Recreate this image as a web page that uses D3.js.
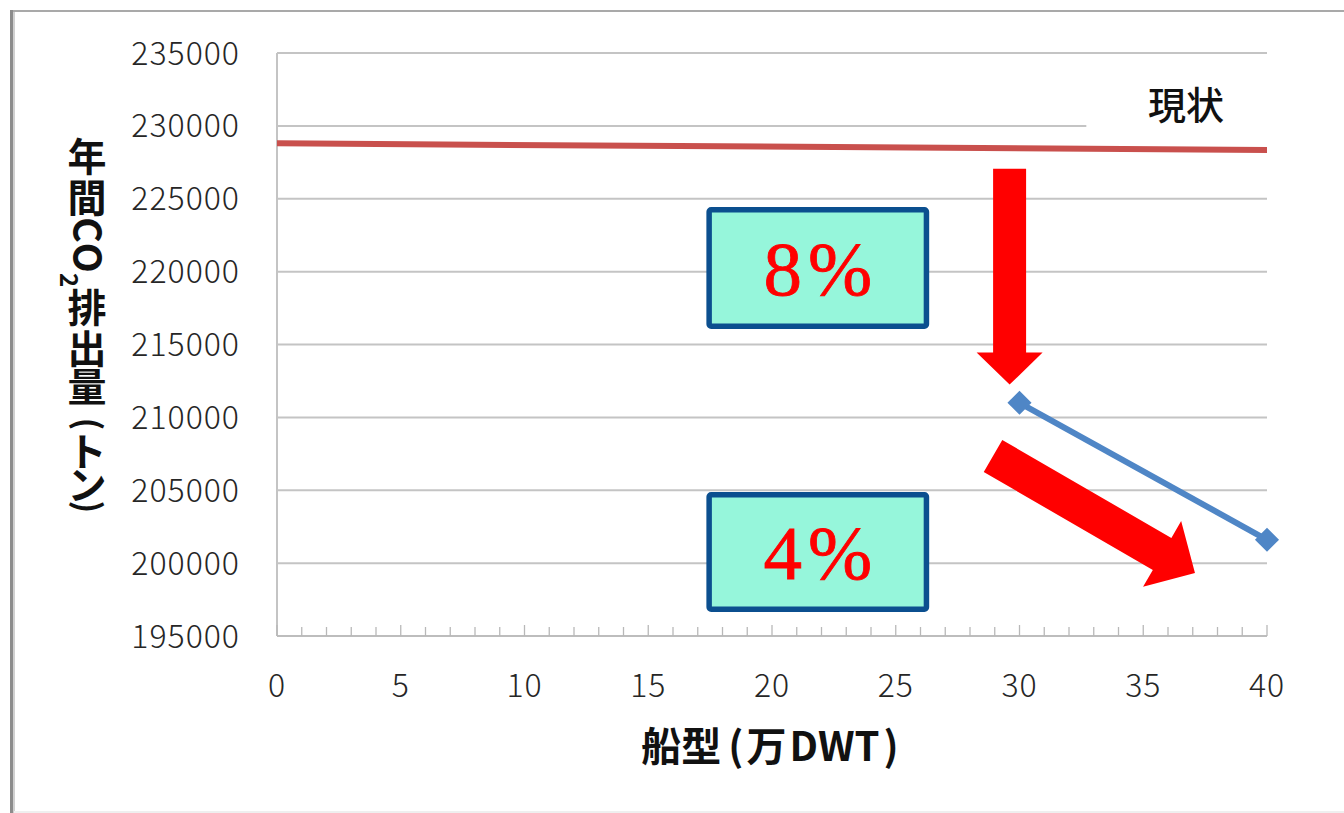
<!DOCTYPE html>
<html>
<head>
<meta charset="utf-8">
<script src="https://cdn.jsdelivr.net/npm/d3@7"></script>
<style>
  html, body { margin: 0; padding: 0; background: #fff; }
  svg { display: block; }
</style>
</head>
<body>
<svg id="chart" width="1344" height="813"></svg>
<script>
// Ship size (10,000 DWT) and annual CO2 emissions (tonnes)
const currentX = [0, 40];
const currentCO2 = [228800, 228350];
const newX = [30, 40];
const newCO2 = [211000, 201600];

const yTicks = [195000, 200000, 205000, 210000, 215000, 220000, 225000, 230000, 235000];
const xTicks = [0, 5, 10, 15, 20, 25, 30, 35, 40];

const currentLabel = "現状";
const reductionLabels = ["8%", "4%"];
const xTitleParts = ["船型", "(", "万", "DWT", ")"];
// vertical y-axis title, one entry per glyph run: upright or turned sideways
const yTitleParts = [
  { t: "年", side: false }, { t: "間", side: false },
  { t: "CO", side: true }, { t: "2", side: true, sub: true },
  { t: "排", side: false }, { t: "出", side: false }, { t: "量", side: false },
  { t: "(", side: true, paren: true }, { t: "ト", side: false }, { t: "ン", side: false },
  { t: ")", side: true, paren: true }
];

const svg = d3.select("#chart");
const W = 1344, H = 813;

const x = d3.scaleLinear().domain([0, 40]).range([277, 1267]);
const y = d3.scaleLinear().domain([195000, 235000]).range([636, 53]);

// outer frame
svg.append("line").attr("x1", 10).attr("x2", W).attr("y1", 11).attr("y2", 11)
  .attr("stroke", "#a9a9a9").attr("stroke-width", 2);
svg.append("line").attr("x1", 11.5).attr("x2", 11.5).attr("y1", 10).attr("y2", H)
  .attr("stroke", "#8c8c8c").attr("stroke-width", 3);
svg.append("line").attr("x1", 14).attr("x2", 14).attr("y1", 12).attr("y2", H)
  .attr("stroke", "#d0d0d0").attr("stroke-width", 2);
svg.append("line").attr("x1", 14).attr("x2", W).attr("y1", 812).attr("y2", 812)
  .attr("stroke", "#efefef").attr("stroke-width", 2);

// horizontal gridlines
svg.append("g").selectAll("line").data(yTicks.filter(d => d > 195000)).join("line")
  .attr("x1", x(0)).attr("x2", d => d === 230000 ? x(32.7) : x(40))
  .attr("y1", d => y(d)).attr("y2", d => y(d))
  .attr("stroke", "#c4c4c4").attr("stroke-width", 2);

// axis lines
svg.append("line").attr("x1", x(0)).attr("x2", x(0)).attr("y1", y(235000)).attr("y2", y(195000))
  .attr("stroke", "#c4c4c4").attr("stroke-width", 2);
svg.append("line").attr("x1", x(0)).attr("x2", x(40)).attr("y1", y(195000)).attr("y2", y(195000))
  .attr("stroke", "#bdbdbd").attr("stroke-width", 2);

// x-axis ticks (minor every 1, major every 5, pointing up)
svg.append("g").selectAll("line").data(d3.range(0, 41)).join("line")
  .attr("x1", d => x(d)).attr("x2", d => x(d))
  .attr("y1", y(195000)).attr("y2", d => y(195000) - (d % 5 === 0 ? 11 : 9))
  .attr("stroke", "#b8b8b8").attr("stroke-width", 1.3);

const numFont = "'Noto Sans CJK JP', 'Noto Sans', sans-serif";

// y tick labels
svg.append("g").selectAll("text").data(yTicks).join("text")
  .attr("x", 240).attr("y", d => y(d)).attr("dy", "0.36em")
  .attr("text-anchor", "end")
  .attr("font-family", numFont).attr("font-size", 32).attr("font-weight", 300)
  .attr("letter-spacing", 1).attr("fill", "#262626")
  .text(d => d3.format("d")(d));

// x tick labels
svg.append("g").selectAll("text").data(xTicks).join("text")
  .attr("x", d => x(d)).attr("y", 697)
  .attr("text-anchor", "middle")
  .attr("font-family", numFont).attr("font-size", 32).attr("font-weight", 300)
  .attr("letter-spacing", 1).attr("fill", "#262626")
  .text(d => d);

// x-axis title
const xt = svg.append("text").attr("x", 770).attr("y", 761).attr("text-anchor", "middle")
  .attr("font-family", numFont).attr("font-size", 40).attr("font-weight", 700)
  .attr("fill", "#111");
const xtGaps = [0, 7, 3, 3, 4];
xTitleParts.forEach((t, i) => xt.append("tspan").attr("dx", xtGaps[i]).text(t));

// y-axis title: a single text element, every glyph given its own position
const titleX = 87;
const titleCenters = [156, 197, 245, 280, 307, 348, 386, 424, 451, 484, 507];
const measure = (t, fs) => {
  const tmp = svg.append("text").attr("font-family", numFont).attr("font-weight", 700)
    .attr("font-size", fs).text(t);
  const w = tmp.node().getComputedTextLength();
  tmp.remove();
  return w;
};
const gx = [], gy = [], gr = [];
yTitleParts.forEach((p, i) => {
  const cy = titleCenters[i];
  const fs = p.sub ? 24 : p.paren ? 34 : 39;
  p.fs = fs;
  const chars = Array.from(p.t);
  if (!p.side) {
    chars.forEach(c => {
      const w = measure(c, fs);
      gx.push(titleX - w / 2); gy.push(cy + 0.38 * fs); gr.push(0);
    });
  } else {
    const widths = chars.map(c => measure(c, fs));
    const cx = p.sub ? titleX - 18 : titleX;
    const ox = cx - (p.paren ? 0.32 : 0.36) * fs;
    let oy = cy - d3.sum(widths) / 2;
    widths.forEach(w => { gx.push(ox); gy.push(oy); gr.push(90); oy += w; });
  }
});
const yt = svg.append("text")
  .attr("x", gx.join(" ")).attr("y", gy.join(" ")).attr("rotate", gr.join(" "))
  .attr("text-anchor", "start")
  .attr("font-family", numFont).attr("font-weight", 700).attr("font-size", 39)
  .attr("fill", "#111");
yTitleParts.forEach(p => {
  if (p.fs === 39) yt.append(() => document.createTextNode(p.t));
  else yt.append("tspan").attr("font-size", p.fs).text(p.t);
});

// series lines
const line = d3.line().x(d => x(d[0])).y(d => y(d[1]));

svg.append("path").datum(d3.zip(currentX, currentCO2))
  .attr("d", line).attr("fill", "none")
  .attr("stroke", "#c9504d").attr("stroke-width", 6);

svg.append("path").datum(d3.zip(newX, newCO2))
  .attr("d", line).attr("fill", "none")
  .attr("stroke", "#4f86c6").attr("stroke-width", 6);

svg.append("g").selectAll("path").data(d3.zip(newX, newCO2)).join("path")
  .attr("d", d3.symbol().type(d3.symbolSquare).size(290))
  .attr("transform", d => `translate(${x(d[0])},${y(d[1])}) rotate(45)`)
  .attr("fill", "#4f86c6");

// series label
svg.append("text").attr("x", 1186).attr("y", 119).attr("text-anchor", "middle")
  .attr("font-family", numFont).attr("font-size", 38).attr("font-weight", 500)
  .attr("fill", "#111").text(currentLabel);

// block arrows, placed in data units
function arrowPoints(p0, p1, shaftW, headW, headL) {
  const dx = p1[0] - p0[0], dy = p1[1] - p0[1];
  const len = Math.hypot(dx, dy);
  const ux = dx / len, uy = dy / len;
  const nx = -uy, ny = ux;
  const bx = p1[0] - ux * headL, by = p1[1] - uy * headL;
  const pts = [
    [p0[0] + nx * shaftW / 2, p0[1] + ny * shaftW / 2],
    [bx + nx * shaftW / 2, by + ny * shaftW / 2],
    [bx + nx * headW / 2, by + ny * headW / 2],
    [p1[0], p1[1]],
    [bx - nx * headW / 2, by - ny * headW / 2],
    [bx - nx * shaftW / 2, by - ny * shaftW / 2],
    [p0[0] - nx * shaftW / 2, p0[1] - ny * shaftW / 2]
  ];
  return pts.map(p => p.join(",")).join(" ");
}

const arrows = [
  { from: [29.6, 227050], to: [29.6, 212250], shaftW: 33, headW: 66, headL: 32 },
  { from: [28.93, 207350], to: [37.09, 199320], shaftW: 37, headW: 76, headL: 38 }
];
svg.append("g").selectAll("polygon").data(arrows).join("polygon")
  .attr("points", a => arrowPoints([x(a.from[0]), y(a.from[1])], [x(a.to[0]), y(a.to[1])], a.shaftW, a.headW, a.headL))
  .attr("fill", "#ff0000");

// reduction boxes
const boxes = [
  { label: reductionLabels[0], x0: 17.46, x1: 26.24, top: 224245, bottom: 216252 },
  { label: reductionLabels[1], x0: 17.46, x1: 26.24, top: 204691, bottom: 196835 }
];
const bg = svg.append("g").selectAll("g").data(boxes).join("g");
bg.append("rect")
  .attr("x", d => x(d.x0)).attr("y", d => y(d.top))
  .attr("width", d => x(d.x1) - x(d.x0)).attr("height", d => y(d.bottom) - y(d.top))
  .attr("rx", 2)
  .attr("fill", "#96f6db").attr("stroke", "#0b4f8f").attr("stroke-width", 5.5);
bg.append("text")
  .attr("x", d => (x(d.x0) + x(d.x1)) / 2 + 3)
  .attr("y", d => (y(d.top) + y(d.bottom)) / 2 + 27)
  .attr("text-anchor", "middle")
  .attr("font-family", "'Liberation Serif', 'Times New Roman', serif")
  .attr("font-size", 77).attr("letter-spacing", 6).attr("fill", "#ff0000")
  .attr("stroke", "#ff0000").attr("stroke-width", 0.8)
  .text(d => d.label);
</script>
</body>
</html>
